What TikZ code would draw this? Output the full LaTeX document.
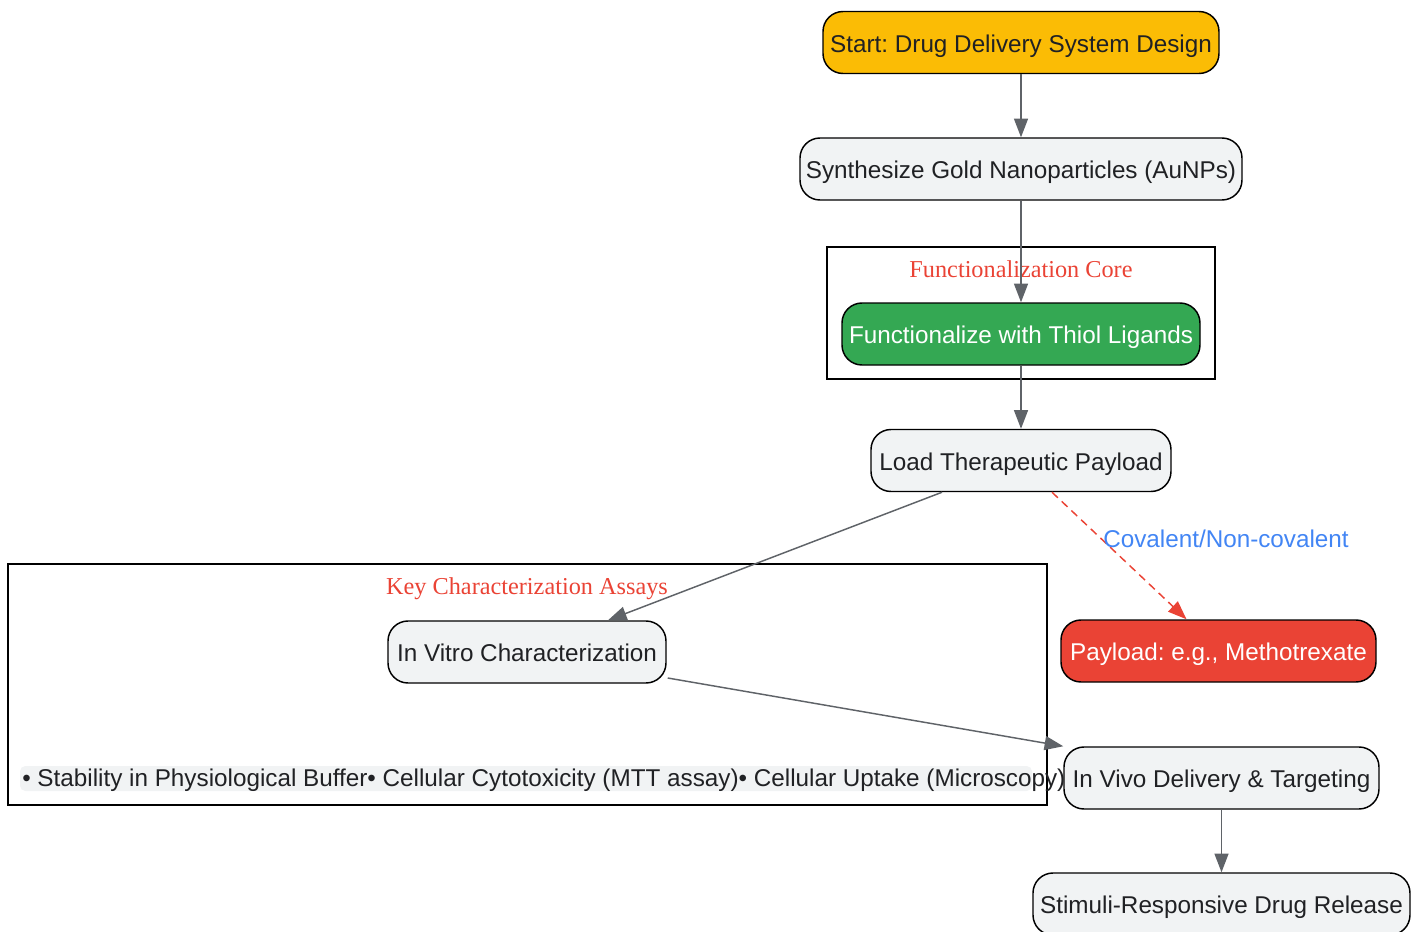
\documentclass[tikz,border=0pt]{standalone}
\usepackage{fontspec}
\setmainfont{Liberation Sans}
\newfontfamily\titlefont{Liberation Serif}
\usetikzlibrary{arrows.meta,calc}
\frenchspacing
\definecolor{edgegray}{HTML}{5F6368}
\definecolor{nodegray}{HTML}{F1F3F4}
\definecolor{gyellow}{HTML}{FBBC05}
\definecolor{ggreen}{HTML}{34A853}
\definecolor{gred}{HTML}{EA4335}
\definecolor{gblue}{HTML}{4285F4}
\definecolor{txt}{HTML}{202124}
\tikzset{
  box/.style={draw=black, line width=1.1pt, rounded corners=15pt, fill=nodegray,
    text=txt, font=\fontsize{18.2pt}{21pt}\selectfont, inner sep=0pt,
    text height=17.5pt, text depth=3pt,
    minimum height=62*0.75pt},
  cluster/.style={draw=black, line width=1.1pt, fill=none},
  ctitle/.style={text=gred, font=\titlefont\fontsize{18.2pt}{21pt}\selectfont, inner sep=0pt},
  edge/.style={draw=edgegray, line width=1.1pt, -{Triangle[length=14pt,width=10.5pt]}},
  dedge/.style={draw=gred, line width=1.1pt, dash pattern=on 6pt off 4pt, -{Triangle[length=14pt,width=10.5pt]}},
}
\begin{document}
\begin{tikzpicture}[x=0.75pt,y=-0.75pt]
\useasboundingbox (0,0) rectangle (1422,932);
% clusters
\draw[cluster] (827,247) rectangle (1215,379);
\node[ctitle] (fctitle) at (1021,269) {Functionalization Core};
\draw[cluster] (8,564) rectangle (1047,805);
\node[ctitle] (kctitle) at (527,588.5) {Key Characterization Assays};
% nodes
\node[box, fill=gyellow, minimum width=396*0.75pt] (start) at (1021,42.5) {Start: Drug Delivery System Design};
\node[box, minimum width=442*0.75pt] (synth) at (1021,169) {Synthesize Gold Nanoparticles (AuNPs)};
\node[box, fill=ggreen, text=white, minimum width=358*0.75pt] (func) at (1021,334) {Functionalize with Thiol Ligands};
\node[box, minimum width=300*0.75pt] (load) at (1021,460.5) {Load Therapeutic Payload};
\node[box, fill=gred, text=white, minimum width=315*0.75pt] (payload) at (1218.5,651) {Payload: e.g., Methotrexate};
\node[box, minimum width=278*0.75pt] (invitro) at (527,652) {In Vitro Characterization};
\node[box, minimum width=315*0.75pt] (invivo) at (1221.5,778) {In Vivo Delivery \& Targeting};
\node[box, minimum width=377*0.75pt] (stim) at (1221.5,904) {Stimuli-Responsive Drug Release};
% bullet list
\fill[nodegray, rounded corners=4pt] (20,766) rectangle (1032,791);
\node[anchor=west, inner sep=0pt, text=txt, font=\fontsize{18.2pt}{21pt}\selectfont] (bullets) at (22,780.5) {• Stability in Physiological Buffer• Cellular Cytotoxicity (MTT assay)• Cellular Uptake (Microscopy)};
% edges
\draw[edge] (start.south) -- (synth.north);
\draw[edge] (synth.south) -- (func.north);
\draw[edge] (func.south) -- (load.north);
\draw[edge] ($(load.south)+(-79,0)$) -- ($(invitro.north)+(81,0)$);
\draw[dedge] ($(load.south)+(31,0)$) -- ($(payload.north)+(-32,0)$);
\node[inner sep=0pt, text=gblue, font=\fontsize{18.2pt}{21pt}\selectfont] (covlabel) at (1226,538.5) {Covalent/Non-covalent};
\draw[edge] ($(invitro.east)+(1,26)$) -- (invivo.north west);
\draw[edge] (invivo.south) -- (stim.north);
\end{tikzpicture}
\end{document}
